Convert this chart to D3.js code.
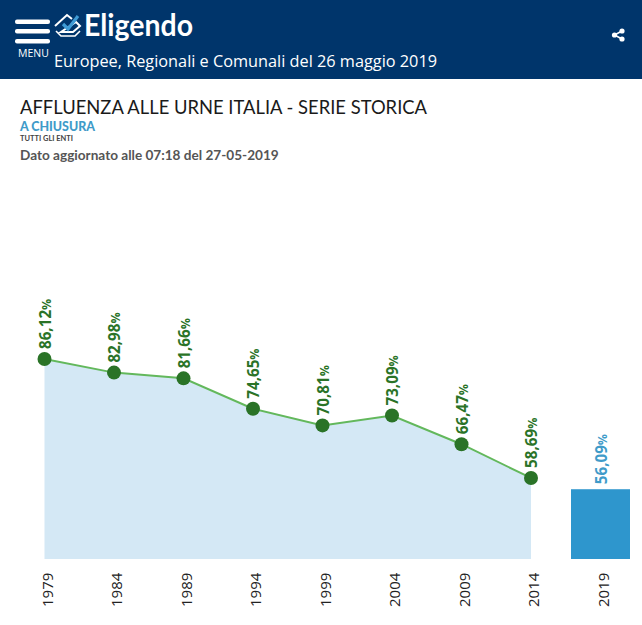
<!DOCTYPE html>
<html>
<head>
<meta charset="utf-8">
<title>Eligendo</title>
<script src="https://cdnjs.cloudflare.com/ajax/libs/d3/7.8.5/d3.min.js"></script>
<style>
html, body { margin: 0; padding: 0; background: #fff; overflow: hidden; }
svg { display: block; }
</style>
</head>
<body>
<div id="chart"></div>
<script>
const years = ["1979", "1984", "1989", "1994", "1999", "2004", "2009", "2014", "2019"];
const pastValues = [86.12, 82.98, 81.66, 74.65, 70.81, 73.09, 66.47, 58.69];
const currentValue = 56.09;
const yDomain = [40, 86.12];

const width = 642, height = 625;
const font = "'Open Sans', sans-serif";
const titleFont = "Lato, sans-serif";

const svg = d3.select("#chart").append("svg")
    .attr("width", width)
    .attr("height", height);

// header band
svg.append("rect").attr("width", width).attr("height", 79).attr("fill", "#00356b");

// hamburger
[19.5, 29, 39].forEach(y => {
    svg.append("rect").attr("x", 15).attr("y", y).attr("width", 35).attr("height", 4.4)
        .attr("rx", 2).attr("fill", "#fff");
});
svg.append("text").attr("x", 18).attr("y", 57).text("MENU")
    .attr("font-family", font).attr("font-size", 10.5).attr("fill", "#fff");

// logo mark
const logo = svg.append("g").attr("fill", "none").attr("stroke", "#fff");
logo.append("path").attr("d", "M55,26 L67,15 L72,19 M76,22 L80,26 L73,32 L61,32 Z").attr("stroke-width", 2);
logo.append("path").attr("d", "M56,31 L61,36 L75,36 L80,31").attr("stroke-width", 1.6);
svg.append("path").attr("d", "M63,24 L68,29 L78,16").attr("fill", "none")
    .attr("stroke", "#3f9bd5").attr("stroke-width", 3.2);
svg.append("text").attr("x", 84).attr("y", 36).text("Eligendo")
    .attr("font-family", "Lato, sans-serif").attr("font-weight", 700)
    .attr("font-size", 30).attr("textLength", 109).attr("lengthAdjust", "spacingAndGlyphs")
    .attr("fill", "#fff");

svg.append("text").attr("x", 54).attr("y", 67).text("Europee, Regionali e Comunali del 26 maggio 2019")
    .attr("font-family", font).attr("font-size", 16.3).attr("fill", "#fff");

// share icon
const share = svg.append("g").attr("fill", "#fff");
share.append("path").attr("d", "M622,31 L614.5,35 L622,39").attr("fill", "none")
    .attr("stroke", "#fff").attr("stroke-width", 1.6);
[[622, 31], [614.5, 35], [622, 39]].forEach(p => {
    share.append("circle").attr("cx", p[0]).attr("cy", p[1]).attr("r", 2.6);
});

// titles
svg.append("text").attr("x", 20).attr("y", 114).text("AFFLUENZA ALLE URNE ITALIA - SERIE STORICA")
    .attr("font-family", titleFont).attr("font-size", 19.5)
    .attr("textLength", 407).attr("lengthAdjust", "spacingAndGlyphs").attr("fill", "#1a1a1a");
svg.append("text").attr("x", 20).attr("y", 131).text("A CHIUSURA")
    .attr("font-family", titleFont).attr("font-weight", 900).attr("font-size", 12.5)
    .attr("textLength", 75).attr("lengthAdjust", "spacingAndGlyphs").attr("fill", "#3f9bc9");
svg.append("text").attr("x", 20).attr("y", 141).text("TUTTI GLI ENTI")
    .attr("font-family", titleFont).attr("font-weight", 700).attr("font-size", 6.5)
    .attr("textLength", 53).attr("lengthAdjust", "spacingAndGlyphs").attr("fill", "#444");
svg.append("text").attr("x", 20).attr("y", 160).text("Dato aggiornato alle 07:18 del 27-05-2019")
    .attr("font-family", titleFont).attr("font-weight", 700).attr("font-size", 13.6).attr("fill", "#555");

// scales
const x = d3.scalePoint().domain(years).range([44.5, 600.5]);
const y = d3.scaleLinear().domain(yDomain).range([559, 359]);

const past = pastValues.map((v, i) => ({ year: years[i], value: v }));

svg.append("path").datum(past)
    .attr("fill", "#d4e8f5")
    .attr("d", d3.area().x(d => x(d.year)).y0(y(yDomain[0])).y1(d => y(d.value)));

svg.append("path").datum(past)
    .attr("fill", "none")
    .attr("stroke", "#63b85c")
    .attr("stroke-width", 2)
    .attr("d", d3.line().x(d => x(d.year)).y(d => y(d.value)));

svg.selectAll("circle.pt").data(past).enter().append("circle")
    .attr("class", "pt")
    .attr("cx", d => x(d.year))
    .attr("cy", d => y(d.value))
    .attr("r", 7)
    .attr("fill", "#2a7327");

// value label, the percent sign is a bit smaller than the digits
function valueLabel(sel, value) {
    sel.attr("font-family", font).attr("font-weight", 700).attr("font-size", 15.2);
    sel.append("tspan").text(value.toFixed(2).replace(".", ","));
    sel.append("tspan").attr("font-size", 12.5).attr("letter-spacing", -0.5).text("%");
}

past.forEach(d => {
    svg.append("text")
        .attr("class", "val")
        .attr("transform", `translate(${x(d.year) + 6},${y(d.value) - 10}) rotate(-90)`)
        .attr("fill", "#2a7327")
        .call(valueLabel, d.value);
});

// current year bar
const lastYear = years[years.length - 1];
svg.append("rect")
    .attr("x", x(lastYear) - 29.5)
    .attr("y", y(currentValue))
    .attr("width", 59)
    .attr("height", y(yDomain[0]) - y(currentValue))
    .attr("fill", "#2e96cd");
svg.append("text")
    .attr("transform", `translate(${x(lastYear) + 6},${y(currentValue) - 5}) rotate(-90)`)
    .attr("fill", "#3f9bc9")
    .call(valueLabel, currentValue);

// x axis labels
const axis = svg.append("g").attr("transform", "translate(0,572)")
    .call(d3.axisBottom(x).tickSize(0).tickPadding(0));
axis.select(".domain").remove();
axis.selectAll("text")
    .attr("transform", "rotate(-90)")
    .attr("x", -35).attr("y", 7.5)
    .attr("dy", 0)
    .attr("text-anchor", "start")
    .attr("font-family", font).attr("font-size", 15).attr("fill", "#222");
</script>
</body>
</html>
